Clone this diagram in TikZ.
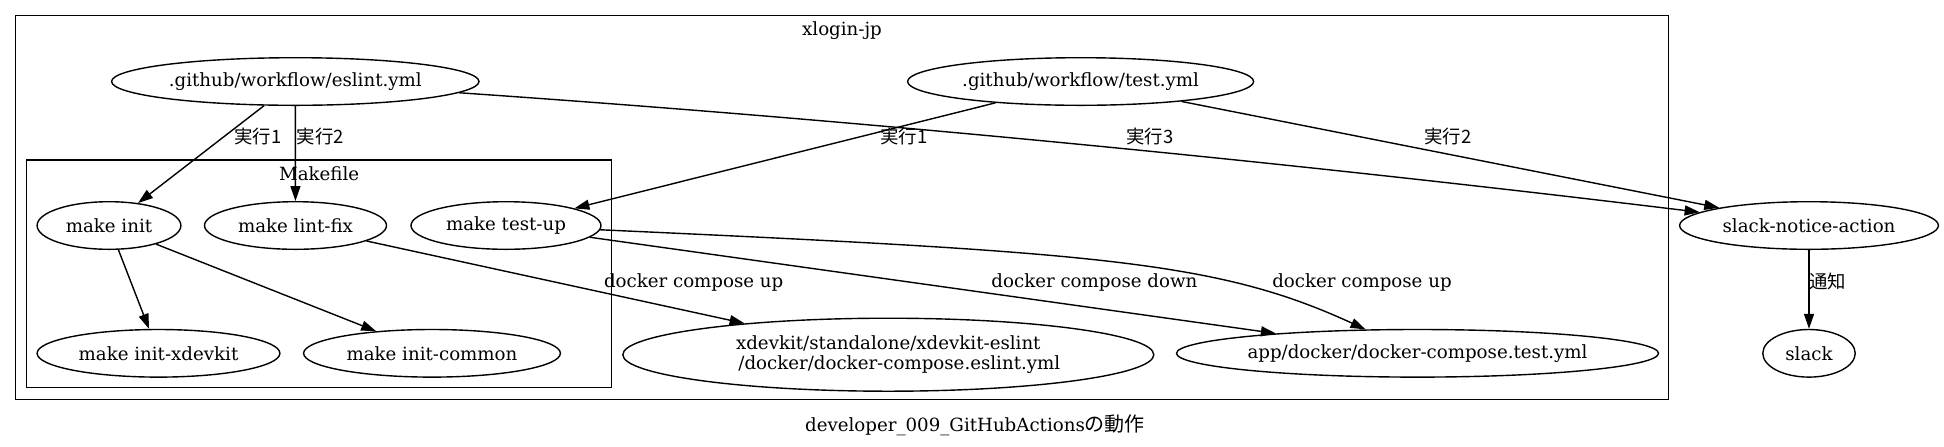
\documentclass[tikz,border=0pt]{standalone}
\usepackage{fontspec}
\setmainfont{DejaVu Serif}
\newfontfamily\cjk{Noto Sans CJK JP}
\usetikzlibrary{shapes.geometric,arrows.meta}

\begin{document}
\begin{tikzpicture}[x=0.5pt, y=-0.5pt, >={Triangle[length=7.5pt,width=5pt]}, line width=0.7pt,
  every node/.style={font=\fontsize{9.1}{9.8}\selectfont},
  oval/.style={ellipse, draw, inner sep=0pt, minimum height=23.8pt, minimum width=#1},
  lbl/.style={font=\cjk\fontsize{9.2}{10}\selectfont, inner sep=0pt},
  clus/.style={draw, line width=0.6pt}]
  \useasboundingbox (0,0) rectangle (1944,446);

  % 1. 外框 (cluster)
  \draw[clus] (15.6,15.7) rectangle (1668.8,399.3);
  \node (repo) at (842,30.7) {xlogin-jp};
  \draw[clus] (26.8,160) rectangle (611.7,387.7);
  \node (mkfile) at (319.2,174) {Makefile};

  % 2. 节点
  \node[oval=183.7pt] (eslint) at (295.3,81.5) {.github/workflow/eslint.yml};
  \node[oval=173pt] (testyml) at (1080.6,81.5) {.github/workflow/test.yml};
  \node[oval=71.9pt] (init) at (109,225.5) {make init};
  \node[oval=91pt] (lintfix) at (295.5,225.5) {make lint-fix};
  \node[oval=95pt] (testup) at (506,225.5) {make test-up};
  \node[oval=121.4pt] (initxdev) at (158.5,353.3) {make init-xdevkit};
  \node[oval=128.4pt] (initcommon) at (432,353.3) {make init-common};
  \node[oval=265.5pt, minimum height=36.5pt, align=center] (eslintyml) at (888.3,354.7)
    {xdevkit/standalone/xdevkit-eslint\\\hspace*{11pt}/docker/docker-compose.eslint.yml};
  \node[oval=241pt] (testcompose) at (1417.5,353.3) {app/docker/docker-compose.test.yml};
  \node[oval=129.4pt] (notice) at (1809,225.5) {slack-notice-action};
  \node[oval=46.2pt] (slack) at (1809,353.3) {slack};

  % 3. 连线 + 标签
  \draw[->] (eslint) -- (init) node[lbl] at (257.8,136.7) {実行1};
  \draw[->] (eslint) -- (lintfix) node[lbl] at (320.5,136.7) {実行2};
  \draw[->] (eslint) .. controls (873,121.2) and (1288,162.3) .. (notice)
    node[lbl] at (1149.7,137) {実行3};
  \draw[->] (testyml) -- (testup) node[lbl] at (903.7,136.7) {実行1};
  \draw[->] (testyml) -- (notice) node[lbl] at (1448,137) {実行2};
  \draw[->] (init) -- (initxdev);
  \draw[->] (init) -- (initcommon);
  \draw[->] (lintfix) -- (eslintyml) node at (693.7,282.3) {docker compose up};
  \draw[->] (testup) -- (testcompose) node at (1094.4,282.3) {docker compose down};
  \draw[->] (testup) .. controls (1102,252.5) and (1218,261.5) .. (testcompose)
    node at (1362,282.3) {docker compose up};
  \draw[->] (notice) -- (slack) node[lbl] at (1827.7,281.7) {通知};

  % 4. 标题
  \node (caption) at (975,425) {developer\_009\_GitHubActions{\cjk\fontsize{10}{12}\selectfont の動作}};
\end{tikzpicture}
\end{document}
